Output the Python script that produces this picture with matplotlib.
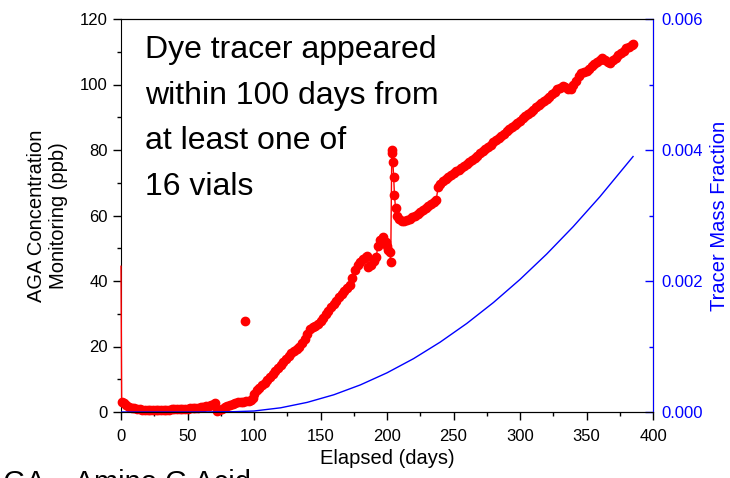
import matplotlib
matplotlib.use("Agg")
import matplotlib.pyplot as plt
from matplotlib.ticker import MultipleLocator, FormatStrFormatter

plt.rcParams["font.family"] = ["Liberation Sans", "DejaVu Sans"]

# AGA monitoring (ppb) vs elapsed days
days = [0, 0.5, 2, 4, 6, 8, 10, 12, 14, 16, 18, 20, 22, 24, 26, 28, 30, 32, 34, 36,
        38, 40, 42, 44, 46, 48, 50, 52, 54, 56, 58, 60, 62, 64, 66, 68, 70, 71, 72, 74,
        76, 78, 80, 82, 84, 86, 88, 90, 92, 94, 96, 98, 99, 100, 102, 104, 106, 108, 110, 112,
        114, 116, 118, 120, 122, 124, 126, 128, 130, 132, 134, 136, 138, 140, 142, 144, 146, 148, 150, 152,
        154, 156, 158, 160, 162, 164, 166, 168, 170, 172, 174, 176, 178, 180, 182, 184, 185, 186, 188, 190,
        192, 193, 195, 197, 199, 200, 201, 202, 202.8, 203.6, 204.0, 204.4, 205.0, 205.6, 206.4, 207.5, 209, 211, 213, 215,
        217, 219, 221, 223, 225, 227, 229, 231, 233, 235, 237, 238.5, 240, 242, 244, 246, 248, 250, 252, 254,
        256, 258, 260, 262, 264, 266, 268, 270, 272, 274, 276, 278, 280, 282, 284, 286, 288, 290, 292, 294,
        296, 298, 300, 302, 304, 306, 308, 310, 312, 314, 316, 318, 320, 322, 324, 326, 328, 330, 332, 334,
        336, 338, 340, 342, 344, 346, 348, 350, 352, 354, 356, 358, 360, 362, 364, 366, 368, 370, 372, 374,
        376, 378, 380, 382, 384, 385]
ppb = [44.5, 3.2, 2.6, 2.0, 1.6, 1.3, 1.1, 0.9, 0.8, 0.7, 0.7, 0.6, 0.6, 0.6, 0.6, 0.6, 0.6, 0.7, 0.7, 0.7,
       0.8, 0.8, 0.8, 0.9, 0.9, 1.0, 1.0, 1.1, 1.1, 1.2, 1.3, 1.4, 1.5, 1.7, 1.9, 2.1, 2.5, 2.7, 0.4, 0.7,
       1.0, 1.4, 1.8, 2.2, 2.5, 2.8, 3.0, 3.1, 3.2, 3.3, 3.4, 3.6, 4.3, 5.6, 6.6, 7.4, 8.2, 9.0, 9.8, 10.6,
       11.5, 12.4, 13.3, 14.3, 15.2, 16.1, 17.0, 17.9, 18.6, 19.3, 20.0, 21.0, 22.4, 23.8, 25.2, 26.0, 26.3, 26.9, 27.8, 28.8,
       29.8, 30.9, 32.0, 33.0, 34.0, 35.1, 36.1, 37.0, 37.9, 38.8, 41.0, 43.5, 44.8, 45.8, 46.6, 47.3, 47.5, 44.2, 45.0, 46.0,
       47.2, 50.8, 52.6, 53.4, 52.0, 50.6, 49.5, 48.8, 45.9, 80.0, 79.2, 76.4, 71.9, 66.3, 62.2, 60.0, 58.8, 58.2, 58.3, 58.6,
       59.0, 59.5, 60.0, 60.5, 61.0, 61.6, 62.2, 62.9, 63.5, 64.1, 64.8, 68.8, 69.6, 70.4, 71.1, 71.7, 72.3, 72.9, 73.5, 74.0,
       74.6, 75.2, 75.8, 76.4, 77.0, 77.6, 78.3, 79.0, 79.6, 80.3, 81.0, 81.6, 82.3, 83.0, 83.7, 84.3, 84.8, 85.7, 86.5, 87.1,
       87.6, 88.3, 89.0, 89.7, 90.4, 91.0, 91.6, 92.2, 93.0, 93.8, 94.4, 95.0, 95.5, 96.2, 97.0, 97.8, 98.6, 99.0, 99.5, 99.3,
       98.6, 98.7, 99.8, 101.0, 102.5, 103.4, 103.8, 104.1, 104.8, 105.7, 106.4, 107.0, 107.5, 108.0, 107.6, 106.8, 106.6, 107.5, 108.2, 108.9,
       109.6, 110.3, 111.0, 111.6, 112.2, 112.5]

# lone sample off the trend
outlier_day = [93]
outlier_ppb = [27.8]

# modelled tracer mass fraction
model_days = [0, 50, 70, 85, 100, 120, 140, 160, 180, 200, 220, 240, 260, 280, 300,
              320, 340, 360, 385]
mass_frac = [0.0, 0.0, 0.000002, 0.000005, 0.000015, 0.000064, 0.000147, 0.000263, 0.000414, 0.000598,
             0.000815, 0.001067, 0.001352, 0.001671, 0.002024, 0.00241, 0.00283, 0.003285, 0.0039]

W, H = 730, 478
fig = plt.figure(figsize=(W / 100, H / 100), dpi=100)
ax = fig.add_axes([121 / W, 1 - 412 / H, 532 / W, 393 / H])

ax.set_xlim(0, 400)
ax.set_ylim(0, 120)
ax.xaxis.set_major_locator(MultipleLocator(50))
ax.xaxis.set_minor_locator(MultipleLocator(25))
ax.yaxis.set_major_locator(MultipleLocator(20))
ax.yaxis.set_minor_locator(MultipleLocator(10))
ax.tick_params(which="both", direction="out", labelsize=12, width=1)
ax.tick_params(which="major", length=6)
ax.tick_params(which="minor", length=3)
ax.tick_params(axis="y", pad=3.5)
ax.tick_params(axis="x", pad=6)
ax.set_xlabel("Elapsed (days)", fontsize=14.5)
ax.set_ylabel("AGA Concentration\nMonitoring (ppb)", fontsize=14.5)
ax.yaxis.set_label_coords(-0.1, 0.5)

ax2 = ax.twinx()
ax2.plot(model_days, mass_frac, color="blue", lw=1)
ax2.set_ylim(0, 0.006)
ax2.yaxis.set_major_locator(MultipleLocator(0.002))
ax2.yaxis.set_minor_locator(MultipleLocator(0.001))
ax2.yaxis.set_major_formatter(FormatStrFormatter("%.3f"))
ax2.tick_params(which="both", direction="in", colors="blue", labelsize=12, width=1)
ax2.tick_params(which="major", length=6, pad=6)
ax2.tick_params(which="minor", length=3)
ax2.spines["right"].set_color("blue")
ax2.spines["left"].set_visible(False)
ax2.set_ylabel("Tracer Mass Fraction", color="blue", fontsize=14.5)
ax2.yaxis.set_label_coords(1.108, 0.5)

# red data drawn on the twin so the day-0 spike sits over the left spine
ax2.plot(days, [v * 0.006 / 120 for v in ppb], "-", color="red", lw=1.0, marker="o", ms=6,
         mec="red", mfc="red", markevery=list(range(1, len(days))), clip_on=False, zorder=1)
ax2.plot(outlier_day, [v * 0.006 / 120 for v in outlier_ppb], "o", color="red", ms=6, zorder=1)

fig.text(145 / W, 1 - 35 / H, "Dye tracer appeared\nwithin 100 days from\nat least one of\n16 vials",
         fontsize=23, va="top", ha="left", linespacing=1.68)
fig.text(-16 / W, 1 - 491 / H, "AGA \u2013 Amino G Acid", fontsize=21, va="baseline", ha="left")

fig.savefig("out.png", dpi=100)
